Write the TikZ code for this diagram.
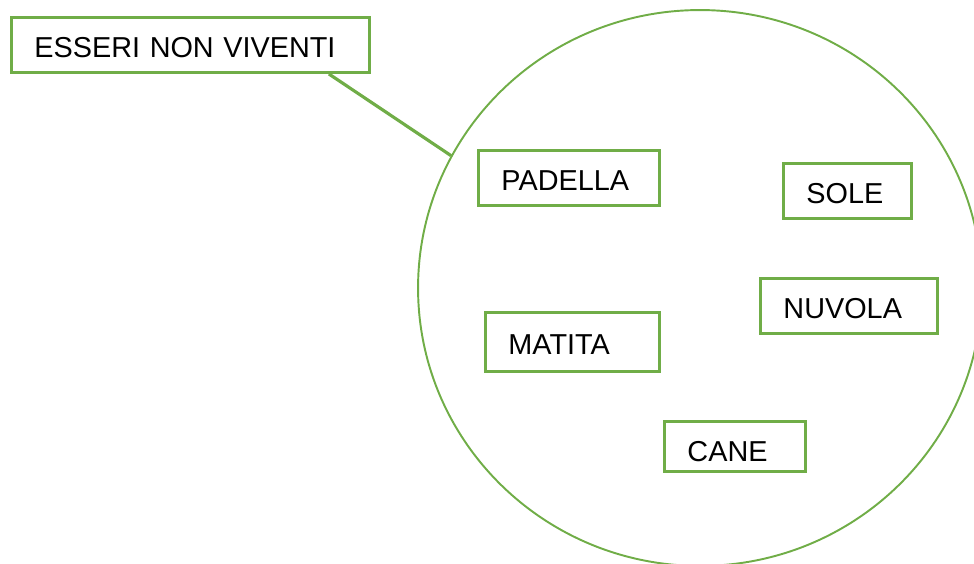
\documentclass[tikz,border=0pt]{standalone}
\usepackage{fontspec}
\setmainfont{Liberation Sans}
\usetikzlibrary{shapes.geometric, calc}
\definecolor{verde}{HTML}{70AD47}

\begin{document}
\begin{tikzpicture}[x=0.02cm, y=-0.02cm,
    voce/.style={rectangle, draw=verde, line width=1.7pt, anchor=north west,
        inner xsep=0.46cm, minimum height=1.1cm, text width=#1, align=left,
        text height=0.5cm, text depth=0pt, font=\fontsize{16.4}{19}\selectfont},
    insieme/.style={ellipse, draw=verde, line width=1.1pt, inner sep=0pt}]
    \clip (0,0) rectangle (974,564);

    % the set
    \node [insieme, minimum width=11.28cm, minimum height=11.12cm] (cerchio) at (700,288) {};

    \node [voce=6.24cm] (titolo) at (10,16) {ESSERI NON VIVENTI};
    \node [voce=2.7cm] (padella) at (477,149) {PADELLA};
    \node [voce=1.64cm] (sole) at (782,162) {SOLE};
    \node [voce=2.62cm] (nuvola) at (759,277) {NUVOLA};
    \node [voce=2.56cm, minimum height=1.18cm] (matita) at (484,311) {MATITA};
    \node [voce=1.9cm, minimum height=1cm, text height=0.6cm] (cane) at (663,420) {CANE};

    \draw [verde, line width=1.8pt] ($(titolo.south east)+(-42,0)$) -- (cerchio.152);
\end{tikzpicture}
\end{document}
